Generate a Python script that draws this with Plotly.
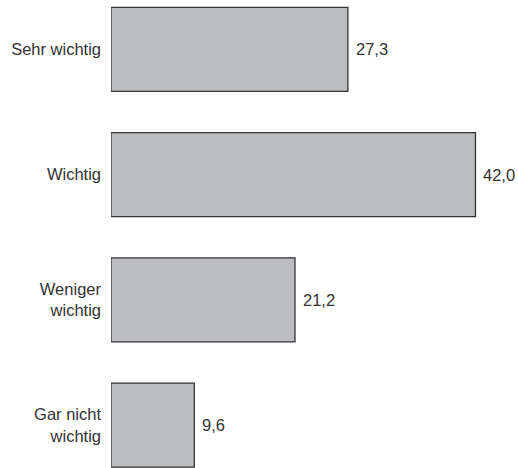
import plotly.graph_objects as go

categories = ["Sehr wichtig", "Wichtig", "Weniger<br>wichtig", "Gar nicht<br>wichtig"]
values = [27.3, 42.0, 21.2, 9.6]
value_labels = [f"{v:.1f}".replace(".", ",") for v in values]

positions = list(range(len(categories)))

fig = go.Figure()
fig.add_trace(go.Bar(
    x=values,
    y=positions,
    orientation="h",
    width=0.671,
    marker=dict(color="#bdbec2", line=dict(color="#333333", width=1.3)),
    hoverinfo="skip",
))

for v, p, lab in zip(values, positions, value_labels):
    fig.add_annotation(
        x=v, y=p, xref="x", yref="y", text=lab, showarrow=False,
        xanchor="left", yanchor="middle", xshift=6,
        font=dict(family="Liberation Sans, Arial, sans-serif", size=16.5, color="#333333"),
    )

fig.update_layout(
    width=518, height=468,
    margin=dict(l=111, r=0, t=0, b=0),
    paper_bgcolor="white", plot_bgcolor="white",
    showlegend=False,
    hovermode=False,
    font=dict(family="Liberation Sans, Arial, sans-serif", size=16.5, color="#333333"),
)
fig.update_xaxes(range=[0, 46.9], visible=False, showgrid=False, zeroline=False,
                 automargin=False)
fig.update_yaxes(
    range=[3.343, -0.394],
    tickmode="array", tickvals=positions, ticktext=categories,
    showgrid=False, zeroline=False, showline=False, ticks="",
    ticklabelstandoff=9, automargin=False,
)

fig.write_html(
    "out.html",
    config={"displayModeBar": False, "staticPlot": True},
    post_script="document.body.style.margin='0';document.body.style.padding='0';"
                "document.body.style.overflow='hidden';",
)
